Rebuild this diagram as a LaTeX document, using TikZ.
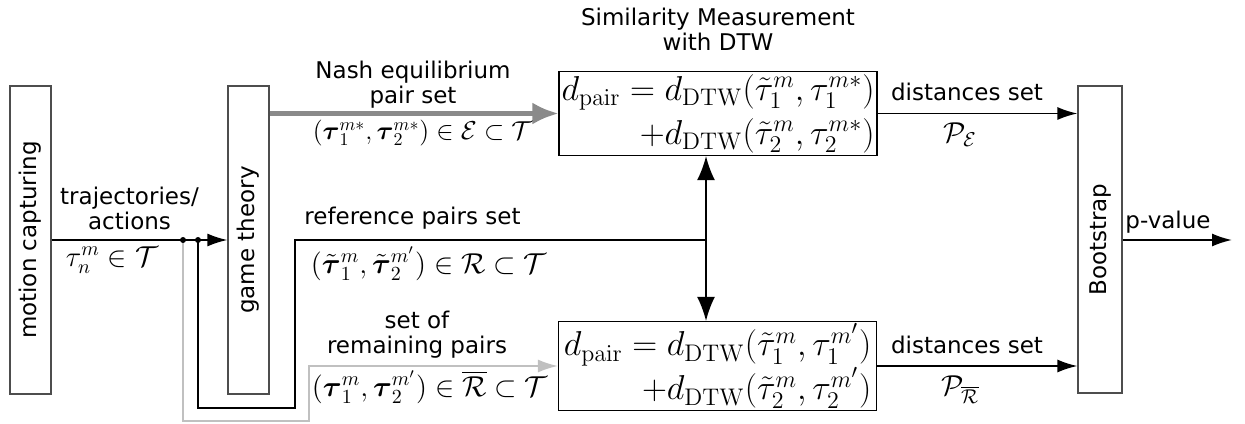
\documentclass[tikz,border=0pt]{standalone}
\usepackage{amsmath,amssymb}
\usepackage{graphicx}
\usepackage[no-math]{fontspec}
\setmainfont{DejaVu Sans}
\usepackage{tikz}
\usetikzlibrary{calc,arrows.meta}
\definecolor{boxline}{HTML}{4D4D4D}
\definecolor{nashg}{HTML}{8A8A8A}
\definecolor{restg}{HTML}{C0C0C0}
\newcommand{\txtsize}{\fontsize{11.5}{12.5}\selectfont}
\newcommand{\eqsize}{\fontsize{14.4}{17}\selectfont}
\newcommand{\boxsize}{\fontsize{17.28}{22}\selectfont}
\tikzset{
  ar/.style={-{Latex[length=10pt,width=6.5pt]},line width=0.9pt},
  dar/.style={{Latex[length=12pt,width=9pt]}-{Latex[length=12pt,width=9pt]},line width=0.9pt},
  nash/.style={-{Latex[length=13pt,width=11pt]},line width=2.2pt,nashg},
  rest/.style={-{Latex[length=10pt,width=6.5pt]},line width=0.9pt,restg},
  route/.style={line width=1pt},
  blk/.style={draw=boxline,line width=0.6pt,inner sep=0pt,minimum width=20.5pt,minimum height=154pt,font=\txtsize},
  eqbox/.style={draw,line width=0.6pt,align=right,inner sep=1pt,minimum width=159pt,minimum height=42pt,font=\boxsize},
  lbl/.style={align=center,font=\txtsize,inner sep=0pt},
  mlbl/.style={font=\eqsize,inner sep=0pt}
}
\begin{document}
\begin{tikzpicture}[x=0.5pt,y=0.5pt]
\useasboundingbox (0,0) rectangle (1245,423);
% blocks
\node[blk] (mocap) at (30.5,183) {\rotatebox{90}{motion capturing}};
\node[blk] (game) at (248.5,183) {\rotatebox{90}{game theory}};
\node[blk,minimum width=22pt,minimum height=153.5pt] (boot) at (1100,183.5) {\rotatebox{90}{Bootstrap}};
\node[eqbox] (dtwE) at (718,309.5) {$d_{\mathrm{pair}}=d_{\mathrm{DTW}}(\tilde{\tau}_1^m,\tau_1^{m*})$\\$+d_{\mathrm{DTW}}(\tilde{\tau}_2^m,\tau_2^{m*})$};
\node[eqbox] (dtwR) at (717.5,57) {$d_{\mathrm{pair}}=d_{\mathrm{DTW}}(\tilde{\tau}_1^m,\tau_1^{m'})$\\$+d_{\mathrm{DTW}}(\tilde{\tau}_2^m,\tau_2^{m'})$};
% connectors
\coordinate (s1) at (183,183);
\coordinate (s2) at (198,183);
\coordinate (gb) at (309,2);
\coordinate (bb) at (295,15);
\coordinate (jn) at (706,183);
\coordinate (pv) at (1232,183);
\draw[ar] (mocap.east) -- (game.west);
\draw[rest] (s1) |- (gb) -- (gb |- dtwR.west) -- (dtwR.west);
\draw[route] (s2) |- (bb) -- (bb |- jn) -- (jn);
\fill (s1) circle (1.5pt) (s2) circle (1.5pt);
\draw[nash] (game.east |- dtwE.west) -- (dtwE.west);
\draw[dar] (jn |- dtwE.south) -- (jn |- dtwR.north);
\draw[ar] (dtwE.east) -- (dtwE.east -| boot.west);
\draw[ar] (dtwR.east) -- (dtwR.east -| boot.west);
\draw[ar] (boot.east |- pv) -- (pv);
% labels
\node[lbl] (simt) at (718,393.5) {Similarity Measurement\\with DTW};
\node[lbl] (nasht) at (413,338.5) {Nash equilibrium\\pair set};
\node[mlbl] (nashm) at (422.5,290) {\scalebox{0.9}{$(\boldsymbol{\tau}_1^{m*},\boldsymbol{\tau}_2^{m*})\in\mathcal{E}\subset\mathcal{T}$}};
\node[lbl] (reft) at (412.5,205) {reference pairs set};
\node[mlbl] (refm) at (429,159) {$(\tilde{\boldsymbol{\tau}}_1^m,\tilde{\boldsymbol{\tau}}_2^{m'})\in\mathcal{R}\subset\mathcal{T}$};
\node[lbl] (remt) at (417,88) {set of\\remaining pairs};
\node[mlbl] (remm) at (430,36) {$(\boldsymbol{\tau}_1^m,\boldsymbol{\tau}_2^{m'})\in\overline{\mathcal{R}}\subset\mathcal{T}$};
\node[lbl] (trajt) at (129.5,214.5) {trajectories/\\actions};
\node[mlbl] (trajm) at (112,163) {$\tau_n^m\in\mathcal{T}$};
\node[lbl] (distEt) at (967,331) {distances set};
\node[mlbl] (distEm) at (960,288) {$\mathcal{P}_{\mathcal{E}}$};
\node[lbl] (distRt) at (967,78) {distances set};
\node[mlbl] (distRm) at (960,33) {$\mathcal{P}_{\overline{\mathcal{R}}}$};
\node[lbl] (pvt) at (1168,201) {p-value};
\end{tikzpicture}
\end{document}
